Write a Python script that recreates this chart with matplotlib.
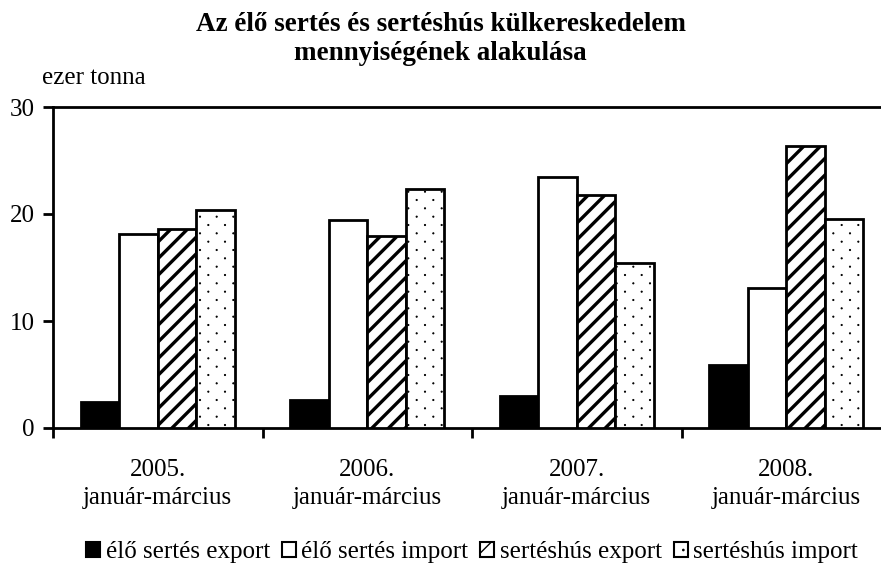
import matplotlib
matplotlib.use("Agg")
import matplotlib.pyplot as plt
import matplotlib.hatch as mhatch
from matplotlib.path import Path
import numpy as np

categories = ["2005.\njanuár-március", "2006.\njanuár-március",
              "2007.\njanuár-március", "2008.\njanuár-március"]
series_names = ["élő sertés export", "élő sertés import",
                "sertéshús export", "sertéshús import"]
elo_export = [2.4, 2.6, 3.0, 5.9]
elo_import = [18.1, 19.4, 23.5, 13.1]
hus_export = [18.6, 17.9, 21.8, 26.4]
hus_import = [20.4, 22.3, 15.4, 19.5]
yticks = [0, 10, 20, 30]


class DotLattice(mhatch.HatchPatternBase):
    """Sparse staggered dot pattern (rows at half the column spacing)."""
    filled = True

    def __init__(self, hatch, density):
        n = int(hatch.count('.') * density)
        self.pts = []
        if n > 0:
            nrows = 2 * n
            for r in range(nrows + 1):
                y = r / nrows
                if r % 2 == 0:
                    xs = np.linspace(0, 1, n + 1)
                else:
                    xs = np.linspace(0.5 / n, 1 - 0.5 / n, n)
                self.pts += [(xx, y) for xx in xs]
        circ = Path.unit_circle()
        self.shape_vertices = circ.vertices
        self.shape_codes = circ.codes
        self.num_vertices = len(self.pts) * len(self.shape_vertices)

    def set_vertices_and_codes(self, vertices, codes):
        nv = len(self.shape_vertices)
        r = 0.0065
        for k, (px, py) in enumerate(self.pts):
            vertices[k * nv:(k + 1) * nv] = self.shape_vertices * r + (px, py)
            codes[k * nv:(k + 1) * nv] = self.shape_codes


mhatch._hatch_types = [DotLattice if t is mhatch.SmallFilledCircles else t
                       for t in mhatch._hatch_types]

plt.rcParams['font.family'] = ['Liberation Serif', 'DejaVu Serif']
plt.rcParams['hatch.color'] = 'black'

W, H = 881, 568
fig = plt.figure(figsize=(W / 100, H / 100), dpi=100)
left, right, top, bottom = 53, 891, 107, 428
ax = fig.add_axes([left / W, 1 - bottom / H, (right - left) / W, (bottom - top) / H])

x = np.arange(len(categories))
bw = 0.184
styles = [
    dict(color='black', hatch=None, hlw=1.0),
    dict(color='white', hatch=None, hlw=1.0),
    dict(color='white', hatch='//', hlw=2.4),
    dict(color='white', hatch='.', hlw=0.6),
]
data = [elo_export, elo_import, hus_export, hus_import]
handles = []
for i, (vals, st) in enumerate(zip(data, styles)):
    with plt.rc_context({'hatch.linewidth': st['hlw']}):
        b = ax.bar(x + (i - 1.5) * bw, vals, bw, facecolor=st['color'],
                   edgecolor='black', hatch=st['hatch'], linewidth=2,
                   label=series_names[i], zorder=3)
    for p in b.patches:
        if hasattr(p, 'set_hatch_linewidth'):
            p.set_hatch_linewidth(st['hlw'])
    handles.append(b)

ax.set_xlim(-0.5, len(categories) - 0.5)
ax.set_ylim(0, 30)
ax.set_yticks(yticks)
ax.set_yticklabels([str(v) for v in yticks], fontsize=18)
ax.set_xticks(np.arange(len(categories) + 1) - 0.5)
ax.set_xticklabels([])
ax.set_xticks(x, minor=True)
ax.set_xticklabels(categories, minor=True, fontsize=18, linespacing=1.4)
ax.tick_params(axis='x', which='minor', length=0, pad=22)
ax.tick_params(axis='x', which='major', length=7, width=2, direction='out')
ax.tick_params(axis='y', length=7, width=2, direction='out', pad=6)
for s in ax.spines.values():
    s.set_linewidth(2)

fig.text(0.5, 1 - 12 / H, "Az élő sertés és sertéshús külkereskedelem\nmennyiségének alakulása",
         ha='center', va='top', fontsize=19.5, fontweight='bold', linespacing=1.2)
fig.text(42 / W, 1 - 78 / H, "ezer tonna", ha='left', va='center', fontsize=18)

leg = fig.legend(handles=handles, loc='center', bbox_to_anchor=(472 / W, 1 - 552 / H),
                 ncol=4, frameon=False, fontsize=18, handlelength=0.56, handleheight=0.56,
                 handletextpad=0.22, columnspacing=0.48, borderaxespad=0, borderpad=0)
for p in leg.get_patches():
    p.set_linewidth(1.5)

fig.savefig("out.png", dpi=100)
